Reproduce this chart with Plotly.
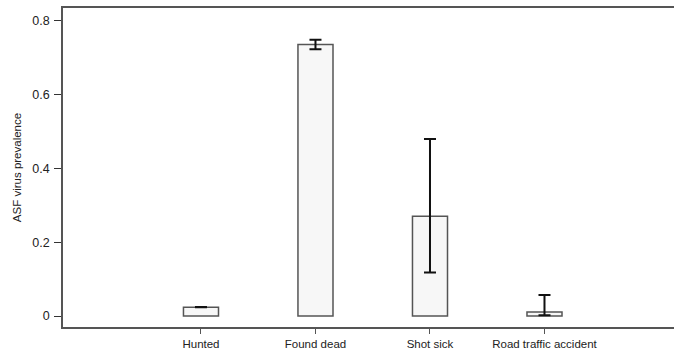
import plotly.graph_objects as go

# ASF virus prevalence by carcass origin, with confidence intervals
categories = ["Hunted", "Found dead", "Shot sick", "Road traffic accident"]
prevalence = [0.024, 0.735, 0.270, 0.011]
ci_low = [0.0235, 0.722, 0.118, 0.002]
ci_high = [0.0245, 0.748, 0.479, 0.057]

y_tickvals = [0, 0.2, 0.4, 0.6, 0.8]
y_ticktext = ["0", "0.2", "0.4", "0.6", "0.8"]

err_plus = [h - v for h, v in zip(ci_high, prevalence)]
err_minus = [v - l for v, l in zip(prevalence, ci_low)]

x_idx = list(range(len(categories)))

fig = go.Figure()
fig.add_trace(go.Bar(
    x=x_idx,
    y=prevalence,
    width=0.306,
    marker=dict(color="#f7f7f7", line=dict(color="#555555", width=1.5)),
    error_y=dict(
        type="data",
        symmetric=False,
        array=err_plus,
        arrayminus=err_minus,
        color="#111111",
        thickness=2,
        width=6,
    ),
    showlegend=False,
))

axis_font = dict(family="Liberation Sans, Arial, sans-serif", size=12, color="#222222")

fig.update_layout(
    width=674,
    height=356,
    margin=dict(l=63, r=0, t=8, b=29),
    paper_bgcolor="white",
    plot_bgcolor="white",
    font=axis_font,
    xaxis=dict(
        range=[-1.205, 4.131],
        tickvals=x_idx,
        ticktext=categories,
        showline=True,
        mirror=True,
        linecolor="#555555",
        linewidth=1.5,
        ticks="outside",
        ticklen=5,
        tickwidth=1,
        tickcolor="#555555",
        showgrid=False,
        zeroline=False,
        tickfont=dict(size=11.5),
    ),
    yaxis=dict(
        range=[-0.0297, 0.834],
        tickvals=y_tickvals,
        ticktext=y_ticktext,
        showline=True,
        linecolor="#555555",
        linewidth=1.5,
        ticks="outside",
        ticklen=7,
        tickwidth=1.2,
        tickcolor="#333333",
        showgrid=False,
        zeroline=False,
        ticklabelstandoff=2,
        tickfont=dict(size=12.5),
        title=dict(text="ASF virus prevalence", font=dict(size=11.5), standoff=8),
    ),
)

fig.write_html("out.html")
